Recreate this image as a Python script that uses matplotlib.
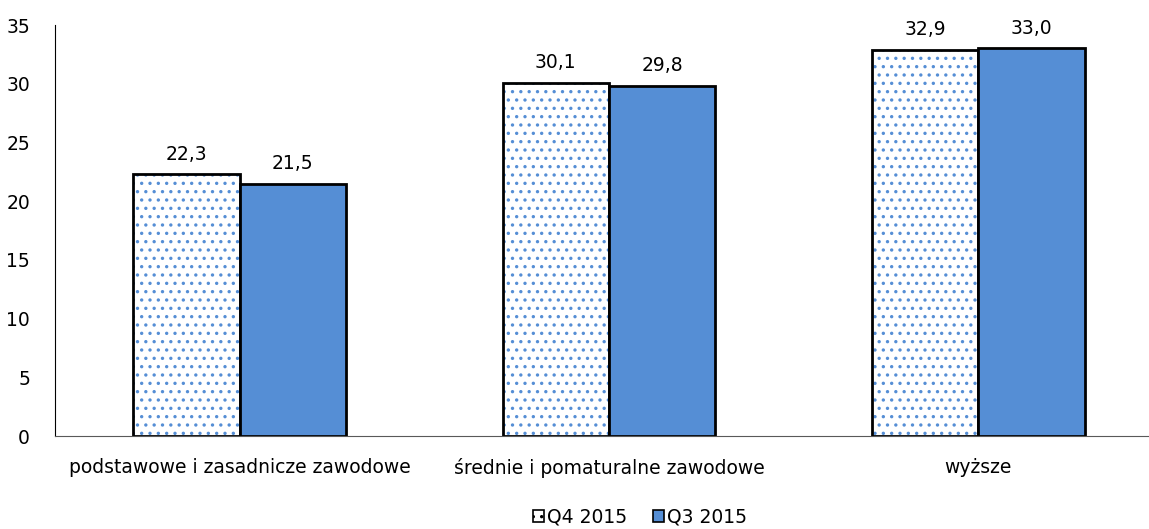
import numpy as np
import matplotlib.pyplot as plt
from matplotlib.patches import Patch

categories = ['podstawowe i zasadnicze zawodowe', 'średnie i pomaturalne zawodowe', 'wyższe']
q4_2015 = [22.3, 30.1, 32.9]
q3_2015 = [21.5, 29.8, 33.0]
series_names = ['Q4 2015', 'Q3 2015']

blue = '#558ED5'
plt.rcParams['font.family'] = 'DejaVu Sans'
plt.rcParams['hatch.linewidth'] = 1.2

fig = plt.figure(figsize=(11.49, 5.29), dpi=100)
ax = fig.add_axes([55/1149, 1-436/529, 1108/1149, 411/529])

x = np.arange(len(categories))
w = 0.288
fs = 13.5

# dotted bars: hatch layer then black outline
ax.bar(x - w/2, q4_2015, w, color='white', edgecolor=blue, hatch='..', linewidth=0)
ax.bar(x - w/2, q4_2015, w, fill=False, edgecolor='black', linewidth=2)
ax.bar(x + w/2, q3_2015, w, color=blue, edgecolor='black', linewidth=2)

for xi, v in zip(x - w/2, q4_2015):
    ax.text(xi, v + 0.9, f'{v:.1f}'.replace('.', ','), ha='center', va='bottom', fontsize=fs)
for xi, v in zip(x + w/2, q3_2015):
    ax.text(xi, v + 0.9, f'{v:.1f}'.replace('.', ','), ha='center', va='bottom', fontsize=fs)

ax.set_xlim(-0.5, 2.5)
ax.set_ylim(0, 35)
ax.set_yticks(range(0, 36, 5))
ax.set_xticks(x)
ax.set_xticklabels(categories)
ax.tick_params(axis='both', length=0, labelsize=fs)
ax.tick_params(axis='x', pad=16)
ax.tick_params(axis='y', pad=18)
for s in ['top', 'right']:
    ax.spines[s].set_visible(False)
ax.spines['left'].set_linewidth(0.8)
ax.spines['bottom'].set_linewidth(0.8)
ax.spines['bottom'].set_color('#595959')

handles = [Patch(facecolor='white', edgecolor='black', hatch='..', linewidth=1.2),
           Patch(facecolor=blue, edgecolor='black', linewidth=1.2)]
fig.legend(handles, series_names, loc='center', bbox_to_anchor=(0.557, 0.022), ncol=2,
           frameon=False, fontsize=fs, handlelength=0.6, handleheight=0.6,
           handletextpad=0.15, columnspacing=1.4)

fig.savefig('out.png', dpi=100)
